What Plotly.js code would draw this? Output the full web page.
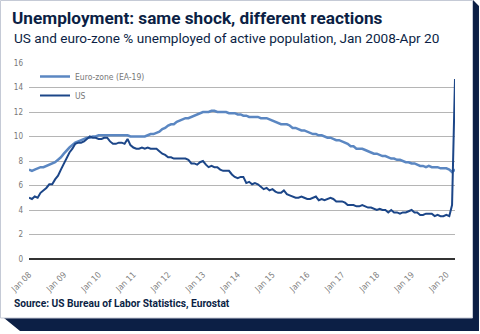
<!DOCTYPE html>
<html>
<head>
<meta charset="utf-8">
<script src="https://cdn.plot.ly/plotly-3.0.1.min.js"></script>
<style>
html,body{margin:0;padding:0;background:#ffffff;}
#chart{width:480px;height:334px;}
</style>
</head>
<body>
<div id="chart"></div>
<script>
// ---- data (monthly, Jan 2008 - Apr 2020) ----
const startYear = 2008;
const euroZone = [
  7.3,7.2,7.3,7.4,7.5,7.5,7.6,7.7,7.8,7.9,8.1,8.3,
  8.6,8.9,9.1,9.3,9.5,9.6,9.7,9.8,9.9,9.9,10.0,10.0,
  10.1,10.1,10.1,10.1,10.1,10.1,10.1,10.1,10.1,10.1,10.1,10.0,
  10.0,10.0,10.0,10.0,10.0,10.1,10.2,10.2,10.3,10.4,10.6,10.7,
  10.9,11.0,11.0,11.2,11.3,11.4,11.5,11.5,11.6,11.7,11.8,11.9,
  12.0,12.0,12.0,12.1,12.1,12.0,12.0,12.0,12.0,11.9,11.9,11.9,
  11.8,11.8,11.7,11.7,11.6,11.6,11.6,11.6,11.5,11.5,11.5,11.4,
  11.3,11.2,11.1,11.0,11.0,11.0,10.9,10.7,10.7,10.6,10.5,10.5,
  10.4,10.3,10.2,10.2,10.1,10.1,10.0,9.9,9.9,9.8,9.7,9.7,
  9.6,9.5,9.4,9.2,9.2,9.0,9.0,9.0,8.9,8.8,8.7,8.6,
  8.6,8.5,8.4,8.4,8.3,8.2,8.2,8.1,8.1,8.0,7.9,7.9,
  7.8,7.8,7.7,7.6,7.6,7.5,7.6,7.5,7.5,7.5,7.4,7.4,
  7.4,7.3,7.1,7.3
];
const us = [
  5.0,4.9,5.1,5.0,5.4,5.6,5.8,6.1,6.1,6.5,6.8,7.3,
  7.8,8.3,8.7,9.0,9.4,9.5,9.5,9.6,9.8,10.0,9.9,9.9,
  9.8,9.8,9.9,9.9,9.6,9.4,9.4,9.5,9.5,9.4,9.8,9.3,
  9.1,9.0,9.0,9.1,9.0,9.1,9.0,9.0,9.0,8.8,8.6,8.5,
  8.3,8.3,8.2,8.2,8.2,8.2,8.2,8.1,7.8,7.8,7.7,7.9,
  8.0,7.7,7.5,7.6,7.5,7.5,7.3,7.2,7.2,7.2,6.9,6.7,
  6.6,6.7,6.7,6.2,6.3,6.1,6.2,6.1,5.9,5.7,5.8,5.6,
  5.7,5.5,5.4,5.4,5.6,5.3,5.2,5.1,5.0,5.0,5.1,5.0,
  4.9,4.9,5.0,5.1,4.8,4.9,4.8,4.9,5.0,4.9,4.7,4.7,
  4.7,4.6,4.4,4.4,4.4,4.3,4.3,4.4,4.3,4.2,4.2,4.1,
  4.0,4.1,4.0,4.0,3.8,4.0,3.8,3.8,3.7,3.8,3.8,3.9,
  4.0,3.8,3.8,3.6,3.6,3.7,3.7,3.7,3.5,3.6,3.5,3.5,
  3.6,3.5,4.4,14.7
];
const tickYears = [2008,2009,2010,2011,2012,2013,2014,2015,2016,2017,2018,2019,2020];
const tickLabels = ["Jan 08","Jan 09","Jan 10","Jan 11","Jan 12","Jan 13","Jan 14","Jan 15","Jan 16","Jan 17","Jan 18","Jan 19","Jan 20"];
const seriesNames = ["Euro-zone (EA-19)","US"];

function monthDates(n){
  const out=[];
  for(let i=0;i<n;i++){
    const y=startYear+Math.floor(i/12), m=(i%12)+1;
    out.push(y+"-"+String(m).padStart(2,"0")+"-01");
  }
  return out;
}
const xDates = monthDates(euroZone.length);

// ---- frame geometry helpers (pixel -> paper) ----
const W=480,H=334, L=29, R=25, T=63, B=75;
const pw=W-L-R, ph=H-T-B;
const px=v=>((v-L)/pw).toFixed(4);
const py=v=>((H-B-v)/ph).toFixed(4);
function path(pts){return "M"+pts.map(p=>px(p[0])+","+py(p[1])).join(" L")+" Z";}

const navy="#0c1f45";
const tickFont={family:"Liberation Sans Narrow, DejaVu Sans Condensed, sans-serif",size:8,color:"#777777"};
const xTickFont={family:"Liberation Sans Narrow, DejaVu Sans Condensed, sans-serif",size:8.5,color:"#808080"};

const traces=[
  {x:xDates,y:euroZone,name:seriesNames[0],type:"scatter",mode:"lines",
   line:{color:"#5b87c2",width:2.5}},
  {x:xDates,y:us,name:seriesNames[1],type:"scatter",mode:"lines",
   line:{color:"#1c4688",width:2}}
];

const layout={
  width:W,height:H,
  margin:{l:L,r:R,t:T,b:B,pad:0},
  paper_bgcolor:"rgba(0,0,0,0)",plot_bgcolor:"rgba(0,0,0,0)",
  showlegend:true,
  legend:{x:px(35),y:py(62),xanchor:"left",yanchor:"top",bgcolor:"rgba(0,0,0,0)",
    font:{family:tickFont.family,size:8.5,color:"#777777"},itemwidth:30,tracegroupgap:0},
  title:{text:"<b>Unemployment: same shock, different reactions</b>",
    font:{family:"Roboto, sans-serif",size:17.2,color:navy},
    xref:"container",yref:"container",x:12/W,xanchor:"left",y:1-18/H,yanchor:"middle"},
  xaxis:{type:"date",range:["2008-01-01","2020-04-01"],
    tickvals:tickYears.map(y=>y+"-01-01"),ticktext:tickLabels,tickangle:-45,
    tickfont:xTickFont,showgrid:false,zeroline:false,showline:false,ticks:"",
    ticklabelstandoff:8,fixedrange:true},
  yaxis:{range:[0,16],dtick:2,tickfont:tickFont,showgrid:true,gridcolor:"#b5b5b5",gridwidth:1,
    zeroline:true,zerolinecolor:"#333333",zerolinewidth:1.5,showline:false,ticks:"",
    ticklabelstandoff:5,fixedrange:true},
  shapes:[
    {type:"path",xref:"paper",yref:"paper",layer:"below",
     path:path([[473,0],[479,6],[479,331],[20,331],[4,318],[473,318]]),
     fillcolor:navy,line:{width:0}},
    {type:"rect",xref:"paper",yref:"paper",layer:"below",
     x0:px(0.5),y0:py(0.5),x1:px(472.5),y1:py(318),
     fillcolor:"#ffffff",line:{color:"#c5cad6",width:1}}
  ],
  annotations:[
    {text:"US and euro-zone % unemployed of active population, Jan 2008-Apr 20",
     xref:"paper",yref:"paper",x:px(12),y:py(38),xanchor:"left",yanchor:"middle",showarrow:false,
     font:{family:"Roboto, sans-serif",size:13.6,color:navy}},
    {text:"<b>Source: US Bureau of Labor Statistics, Eurostat</b>",
     xref:"paper",yref:"paper",x:px(12),y:py(304),xanchor:"left",yanchor:"middle",showarrow:false,
     font:{family:"Roboto, sans-serif",size:10.2,color:navy}}
  ]
};

Plotly.newPlot("chart",traces,layout,{displayModeBar:false,staticPlot:true});
</script>
</body>
</html>
